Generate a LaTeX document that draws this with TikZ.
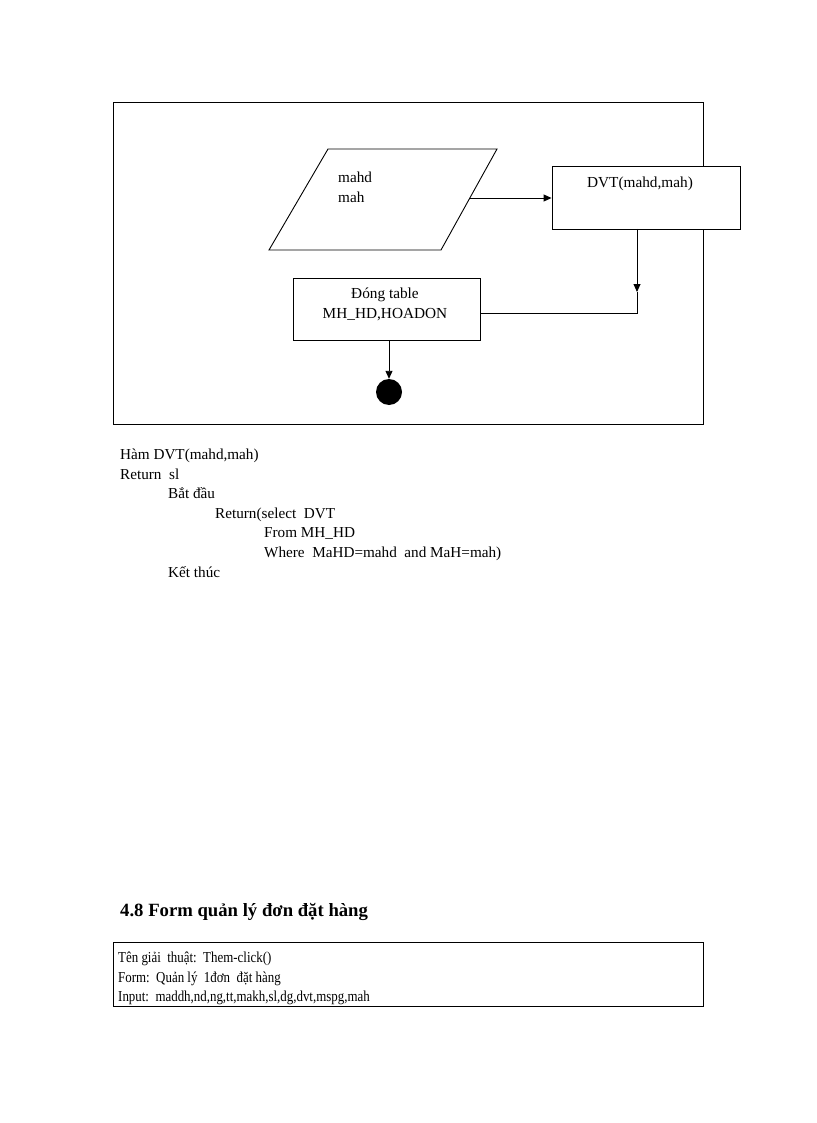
\documentclass[tikz,border=0pt]{standalone}
\usepackage{fontspec}
\setmainfont{Liberation Serif}
\newfontfamily\narrowserif[FakeStretch=0.85]{Liberation Serif}
\usetikzlibrary{arrows.meta}
\tikzset{
  box/.style={draw, line width=0.9pt, inner sep=0pt},
  arr/.style={line width=0.9pt, -{Triangle[length=8pt,width=7pt]}},
  conn/.style={line width=0.9pt},
  txt/.style={anchor=base west, inner sep=0pt, font=\fontsize{15.2}{19}\selectfont},
  ctxt/.style={anchor=base, inner sep=0pt, font=\fontsize{15.3}{19}\selectfont},
  stxt/.style={anchor=base west, inner sep=0pt, font=\narrowserif\fontsize{15.2}{19}\selectfont},
}
\begin{document}
\begin{tikzpicture}[x=1pt,y=-1pt]
\useasboundingbox[fill=white] (0,0) rectangle (816,1123);
% outer frame
\node[box, minimum width=590pt, minimum height=322pt] (frame) at (408,263) {};
% parallelogram (input)
\coordinate (p1) at (328,149);
\coordinate (p2) at (497,149);
\coordinate (p3) at (441,250);
\coordinate (p4) at (269,250);
\draw[conn] (p1) -- (p2) -- (p3) -- (p4) -- cycle;
\coordinate (pout) at (469.8,198);
\node[txt] (in1) at (338,183) {mahd};
\node[txt] (in2) at (338,203) {mah};
% DVT box
\node[box, fill=white, minimum width=188pt, minimum height=63pt] (dvt) at (646,197.5) {};
\node[ctxt] (dvttxt) at (640,188) {DVT(mahd,mah)};
\draw[arr] (pout) -- (dvt.west |- pout);
% Dong table box
\node[box, minimum width=187pt, minimum height=62pt] (dong) at (386.5,309) {};
\node[ctxt] (dong1) at (385,298) {Đóng table};
\node[ctxt] (dong2) at (385,318) {MH\_HD,HOADON};
% connector DVT -> Dong
\coordinate (c1) at (637,229);
\coordinate (c2) at (637,292);
\coordinate (c3) at (637,313);
\coordinate (c4) at (480,313);
\draw[arr] (c1) -- (c2);
\draw[conn] (c2) -- (c3) -- (c4);
% end circle
\node[circle, fill=black, minimum size=26pt, inner sep=0pt] (end) at (389,392) {};
\draw[arr] (dong.south -| end) -- (end.north);
% pseudo code
\node[txt] (l1) at (120,459) {Hàm DVT(mahd,mah)};
\node[txt] (l2) at (120,479) {Return\ \ sl};
\node[txt] (l3) at (168,498) {Bắt đầu};
\node[txt] (l4) at (215,518) {Return(select\ \ DVT};
\node[txt] (l5) at (264,537) {From MH\_HD};
\node[txt] (l6) at (264,557) {Where\ \ MaHD=mahd\ \ and MaH=mah)};
\node[txt] (l7) at (168,577) {Kết thúc};
% heading
\node[anchor=base west, inner sep=0pt, font=\fontsize{18.7}{22}\selectfont\bfseries] (head) at (120,916) {4.8 Form quản lý đơn đặt hàng};
% bottom box
\node[box, minimum width=590pt, minimum height=64pt] (info) at (408,974.5) {};
\node[stxt] (b1) at (118,962) {Tên giải\ \ thuật:\ \ Them-click()};
\node[stxt] (b2) at (118,982) {Form:\ \ Quản lý\ \ 1đơn\ \ đặt hàng};
\node[stxt] (b3) at (118,1001) {Input:\ \ maddh,nd,ng,tt,makh,sl,dg,dvt,mspg,mah};
\end{tikzpicture}
\end{document}
